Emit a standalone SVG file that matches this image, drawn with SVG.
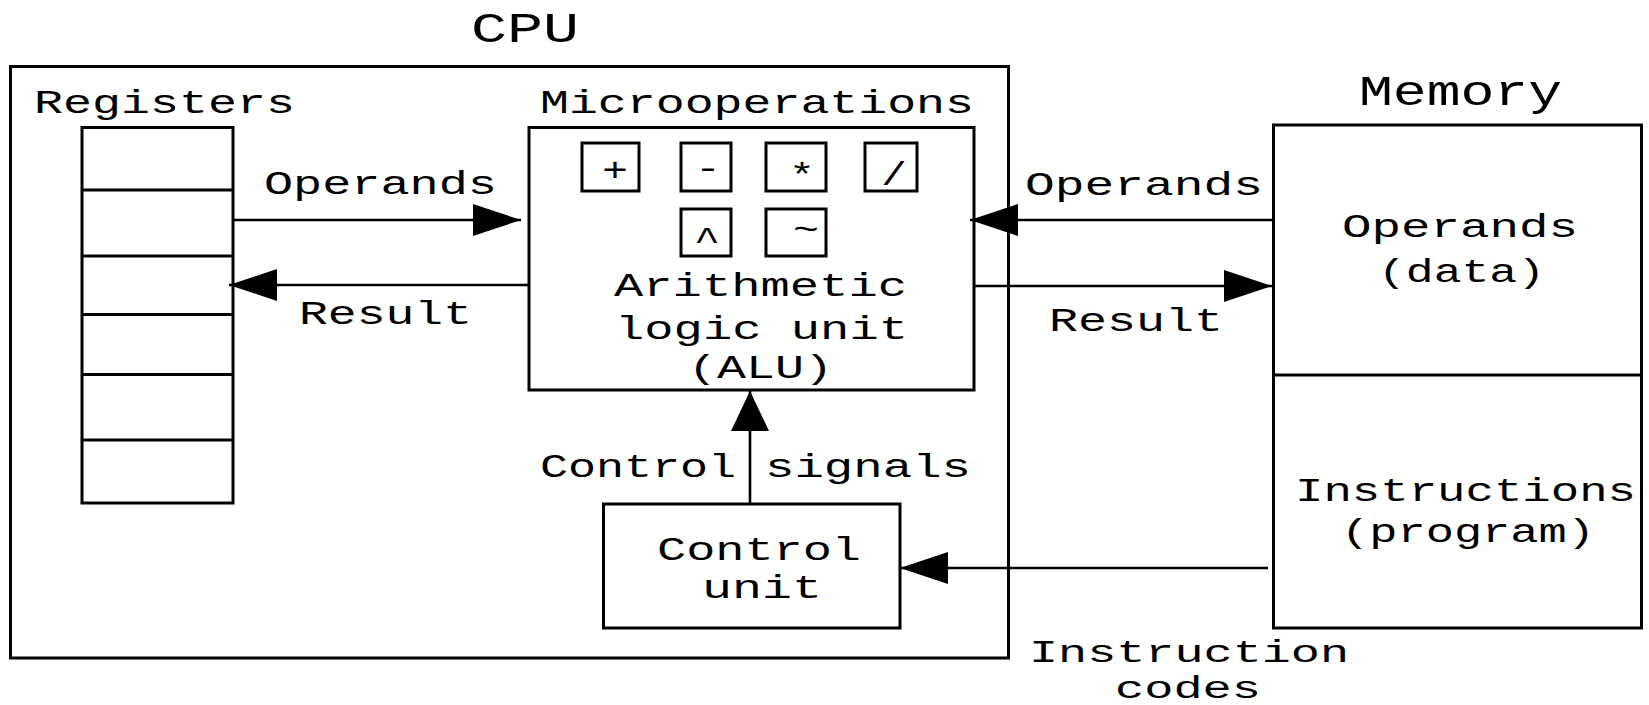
<svg xmlns="http://www.w3.org/2000/svg" width="1649" height="705" viewBox="0 0 1649 705">
  <style>
    .box { fill: none; stroke: #000; stroke-width: 3; }
    .wire { fill: none; stroke: #000; stroke-width: 2.6; }
    .t { font-family: "Liberation Mono", "DejaVu Sans Mono", monospace; font-size: 33px; fill: #000; }
    .big { font-size: 43px; }
    .small { font-size: 31px; }
    .sym { font-family: "Liberation Mono", "DejaVu Sans Mono", monospace; font-size: 33px; fill: #000; text-anchor: middle; }
  </style>
  <defs>
    <marker id="ah" markerUnits="userSpaceOnUse" markerWidth="48" markerHeight="32" refX="48" refY="16" orient="auto">
      <path d="M0,0 L48,16 L0,32 Z" fill="#000"/>
    </marker>
    <marker id="ah-up" markerUnits="userSpaceOnUse" markerWidth="40" markerHeight="38" refX="40" refY="19" orient="auto">
      <path d="M0,0 L40,19 L0,38 Z" fill="#000"/>
    </marker>
  </defs>

  <rect width="1649" height="705" fill="#fff"/>

  <!-- CPU enclosure -->
  <g id="cpu">
    <text class="t big" x="471" y="42" textLength="108" lengthAdjust="spacingAndGlyphs">CPU</text>
    <rect class="box" x="10.5" y="66.5" width="998" height="591.5" stroke-width="3.5"/>
  </g>

  <!-- register file -->
  <g id="registers">
    <text class="t" x="34" y="113" textLength="261" lengthAdjust="spacingAndGlyphs">Registers</text>
    <rect class="box" x="82" y="127.5" width="151" height="375.5"/>
    <path class="box" d="M82,190 H233 M82,256 H233 M82,314.5 H233 M82,374.5 H233 M82,440 H233"/>
  </g>

  <!-- arithmetic logic unit -->
  <g id="alu">
    <text class="t" x="540" y="113" textLength="434" lengthAdjust="spacingAndGlyphs">Microoperations</text>
    <rect class="box" x="529" y="127.5" width="445" height="262.5"/>
    <rect class="box" x="582" y="143" width="57" height="48"/>
    <rect class="box" x="681" y="143" width="50" height="48"/>
    <rect class="box" x="766" y="143" width="60" height="48"/>
    <rect class="box" x="865" y="143" width="52" height="48"/>
    <rect class="box" x="681" y="209" width="50" height="47"/>
    <rect class="box" x="766" y="209" width="60" height="47"/>
    <text class="sym" x="615" y="181" textLength="26" lengthAdjust="spacingAndGlyphs">+</text>
    <text class="sym" x="708" y="179" textLength="26" lengthAdjust="spacingAndGlyphs">-</text>
    <text class="sym" x="802" y="186" textLength="26" lengthAdjust="spacingAndGlyphs">*</text>
    <text class="sym" x="894" y="185" textLength="26" lengthAdjust="spacingAndGlyphs">/</text>
    <text class="sym" x="707" y="250" textLength="26" lengthAdjust="spacingAndGlyphs">^</text>
    <text class="sym" x="806" y="240" textLength="26" lengthAdjust="spacingAndGlyphs">~</text>
    <text class="t" x="614" y="296" textLength="293" lengthAdjust="spacingAndGlyphs">Arithmetic</text>
    <text class="t" x="615" y="339" textLength="293" lengthAdjust="spacingAndGlyphs">logic unit</text>
    <text class="t" x="688" y="378" textLength="145" lengthAdjust="spacingAndGlyphs">(ALU)</text>
  </g>

  <!-- control unit -->
  <g id="control-unit">
    <rect class="box" x="603.5" y="504" width="296.5" height="124"/>
    <text class="t" x="657" y="560" textLength="204" lengthAdjust="spacingAndGlyphs">Control</text>
    <text class="t" x="702" y="598" textLength="120" lengthAdjust="spacingAndGlyphs">unit</text>
  </g>

  <!-- main memory -->
  <g id="memory">
    <text class="t big" x="1359" y="105" textLength="203" lengthAdjust="spacingAndGlyphs">Memory</text>
    <rect class="box" x="1273.5" y="125" width="368" height="503"/>
    <path class="box" d="M1273.5,375 H1641.5"/>
    <text class="t" x="1342" y="237" textLength="236" lengthAdjust="spacingAndGlyphs">Operands</text>
    <text class="t" x="1378" y="282" textLength="167" lengthAdjust="spacingAndGlyphs">(data)</text>
    <text class="t" x="1295" y="501" textLength="341" lengthAdjust="spacingAndGlyphs">Instructions</text>
    <text class="t" x="1341" y="542" textLength="254" lengthAdjust="spacingAndGlyphs">(program)</text>
  </g>

  <!-- data and control paths -->
  <g id="connectors">
    <line class="wire" x1="233" y1="220" x2="521" y2="220" marker-end="url(#ah)"/>
    <line class="wire" x1="529" y1="285" x2="229" y2="285" marker-end="url(#ah)"/>
    <line class="wire" x1="1273" y1="220" x2="970" y2="220" marker-end="url(#ah)"/>
    <line class="wire" x1="974" y1="286" x2="1272" y2="286" marker-end="url(#ah)"/>
    <line class="wire" x1="750" y1="504" x2="750" y2="391" marker-end="url(#ah-up)"/>
    <line class="wire" x1="1268" y1="568" x2="900" y2="568" marker-end="url(#ah)"/>
    <text class="t" x="264" y="194" textLength="233" lengthAdjust="spacingAndGlyphs">Operands</text>
    <text class="t" x="299" y="324" textLength="173" lengthAdjust="spacingAndGlyphs">Result</text>
    <text class="t" x="1025" y="195" textLength="238" lengthAdjust="spacingAndGlyphs">Operands</text>
    <text class="t" x="1049" y="331" textLength="174" lengthAdjust="spacingAndGlyphs">Result</text>
    <text class="t" x="540" y="477" textLength="196" lengthAdjust="spacingAndGlyphs">Control</text>
    <text class="t" x="765" y="477" textLength="206" lengthAdjust="spacingAndGlyphs">signals</text>
    <text class="t small" x="1029" y="662" textLength="320" lengthAdjust="spacingAndGlyphs">Instruction</text>
    <text class="t small" x="1115" y="698" textLength="146" lengthAdjust="spacingAndGlyphs">codes</text>
  </g>
</svg>
